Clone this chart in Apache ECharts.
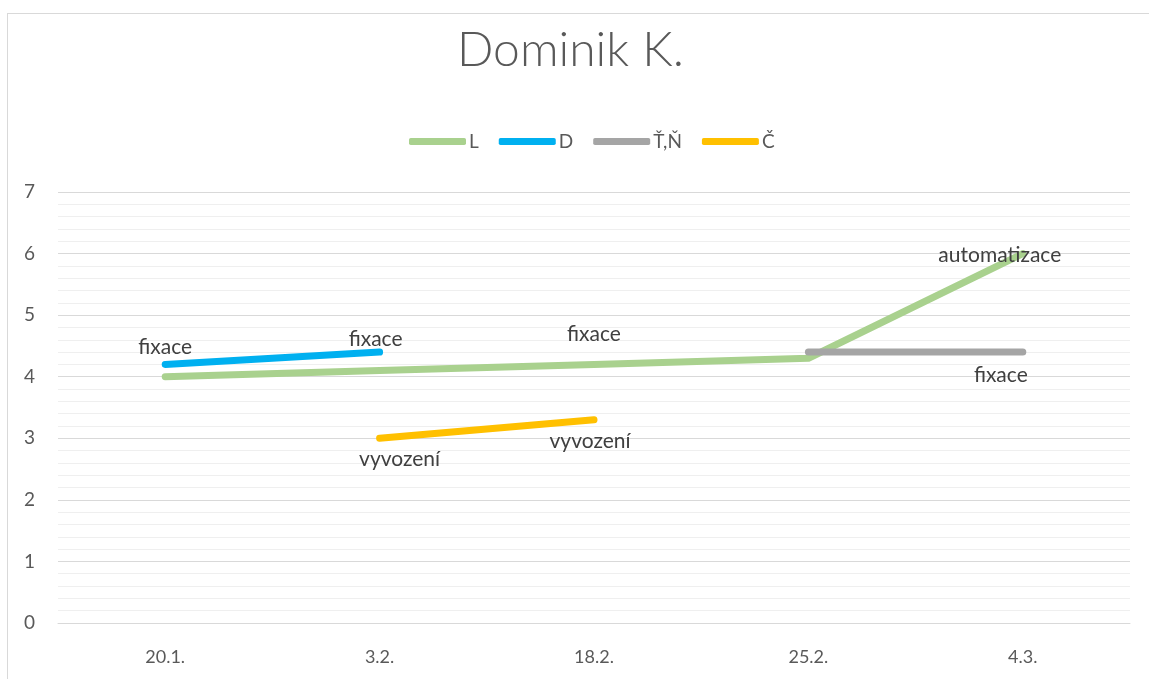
<!DOCTYPE html>
<html>
<head>
<meta charset="utf-8">
<script src="https://cdn.jsdelivr.net/npm/echarts@6/dist/echarts.min.js"></script>
<style>
  html, body { margin: 0; padding: 0; background: #fff; }
  #frame {
    position: absolute;
    left: 7px;
    top: 13px;
    width: 1160px;
    height: 700px;
    border: 1px solid #d9d9d9;
  }
  #chart { position: absolute; left: 0; top: 0; width: 1149px; height: 679px; }
</style>
</head>
<body>
<div id="frame"></div>
<div id="chart"></div>
<script>
// data
const dates = ['20.1.', '3.2.', '18.2.', '25.2.', '4.3.']
const seriesNames = ['L', 'D', 'Ť,Ň', 'Č']
const lValues = [4, 4.1, 4.2, 4.3, 6]
const dValues = [4.2, 4.4, null, null, null]
const tnValues = [null, null, null, 4.4, 4.4]
const cValues = [null, 3, 3.3, null, null]
const lLabels = ['', '', 'fixace', '', 'automatizace']
const dLabels = ['fixace', 'fixace', '', '', '']
const tnLabels = ['', '', '', '', 'fixace']
const cLabels = ['', 'vyvození', 'vyvození', '', '']

const colors = ['#a9d18e', '#00b0f0', '#a5a5a5', '#ffc000']
const font = 'Lato, "Open Sans", sans-serif'

const chart = echarts.init(document.getElementById('chart'))

// build one line series; labelPos tweaks where each text sits
const makeSeries = (name, values, labels, color, labelPos) => ({
  name,
  type: 'line',
  data: values.map((v, i) => {
    if (v === null) return null
    const item = { value: v }
    if (labels[i]) {
      item.label = Object.assign({ show: true, formatter: labels[i] }, labelPos[i] || {})
    }
    return item
  }),
  symbol: 'circle',
  symbolSize: 1,
  showSymbol: true,
  connectNulls: false,
  lineStyle: { width: 7, color, cap: 'round', join: 'round' },
  itemStyle: { color },
  label: {
    show: false,
    color: '#404040',
    fontSize: 21,
    fontFamily: font
  },
  emphasis: { disabled: true },
  z: 2
})

const option = {
  animation: false,
  color: colors,
  title: {
    text: 'Dominik K.',
    left: 452,
    top: 22,
    textStyle: {
      fontFamily: font,
      fontWeight: 300,
      fontSize: 48,
      color: '#595959'
    }
  },
  legend: {
    top: 127,
    left: 404,
    data: seriesNames,
    icon: 'roundRect',
    itemWidth: 57,
    itemHeight: 7,
    itemGap: 20,
    textStyle: { fontFamily: font, fontSize: 19, color: '#595959', padding: [0, 0, 0, -2] }
  },
  grid: {
    left: 58,
    right: 19,
    top: 192,
    bottom: 56,
    containLabel: false
  },
  xAxis: {
    type: 'category',
    data: dates,
    boundaryGap: true,
    axisLine: { show: true, lineStyle: { color: '#d9d9d9', width: 1 } },
    axisTick: { show: false },
    axisLabel: {
      color: '#595959',
      fontFamily: font,
      fontSize: 18,
      margin: 25
    },
    splitLine: { show: false }
  },
  yAxis: {
    type: 'value',
    min: 0,
    max: 7,
    interval: 1,
    axisLine: { show: false },
    axisTick: { show: false },
    axisLabel: {
      color: '#595959',
      fontFamily: font,
      fontSize: 19,
      margin: 23
    },
    splitLine: { show: true, lineStyle: { color: '#d9d9d9', width: 1 } },
    minorTick: { show: false, splitNumber: 5 },
    minorSplitLine: { show: true, lineStyle: { color: '#efefef', width: 1 } }
  },
  series: [
    makeSeries('L', lValues, lLabels, colors[0], [
      null, null,
      { position: 'top', distance: 19 },
      null,
      { position: 'inside', offset: [-23, 2] }
    ]),
    makeSeries('D', dValues, dLabels, colors[1], [
      { position: 'top', distance: 6 },
      { position: 'top', distance: 2, offset: [-4, 0] }
    ]),
    makeSeries('Ť,Ň', tnValues, tnLabels, colors[2], [
      null, null, null, null,
      { position: 'bottom', distance: 12, offset: [-22, 0] }
    ]),
    makeSeries('Č', cValues, cLabels, colors[3], [
      null,
      { position: 'bottom', distance: 10, offset: [20, 0] },
      { position: 'bottom', distance: 10, offset: [-4, 0] }
    ])
  ]
}

chart.setOption(option)
</script>
</body>
</html>
